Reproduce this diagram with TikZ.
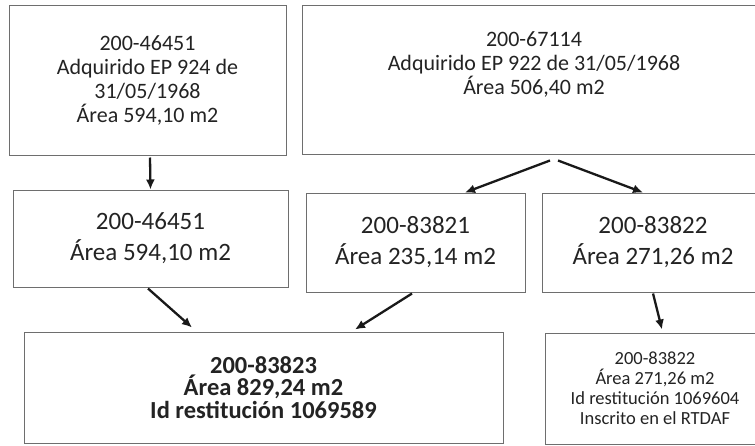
\documentclass[tikz,border=0pt]{standalone}
\usepackage{fontspec}
\setmainfont{Carlito}
\usetikzlibrary{arrows.meta}
\definecolor{boxline}{RGB}{110,110,110}
\definecolor{txtcol}{RGB}{35,35,35}
\definecolor{arrcol}{RGB}{25,25,25}
\tikzset{
  box/.style={draw=boxline, line width=1pt, rectangle, inner sep=0pt, align=center, text=txtcol},
  topfont/.style={font=\fontsize{22}{24}\selectfont},
  midfont/.style={font=\fontsize{25}{31}\selectfont},
  botfont/.style={font=\fontsize{24.5}{22.5}\selectfont\bfseries},
  smallfont/.style={font=\fontsize{18.5}{20}\selectfont},
  arr/.style={draw=arrcol, line width=2.3pt, -{Latex[length=10pt,width=9pt]}, shorten <=0pt}
}
\begin{document}
\begin{tikzpicture}[x=1pt,y=-1pt]
\useasboundingbox (0,0) rectangle (755,445);
\clip (0,0) rectangle (755,445);
% top row
\node[box, topfont, minimum width=277pt, minimum height=150pt] (A) at (147.5,80)
  {200-46451\\Adquirido EP 924 de\\31/05/1968\\Área 594,10 m2};
\node[box, minimum width=464pt, minimum height=149pt] (B) at (534,79.5) {};
\node[topfont, align=center, text=txtcol, inner sep=0pt] (Bt) at (534,64)
  {200-67114\\Adquirido EP 922 de 31/05/1968\\Área 506,40 m2};
% middle row
\node[box, midfont, minimum width=275pt, minimum height=97pt] (C) at (150.5,238.5)
  {200-46451\\Área 594,10 m2};
\node[box, midfont, minimum width=219pt, minimum height=99pt] (D) at (415.5,242.5)
  {200-83821\\Área 235,14 m2};
\node[box, midfont, minimum width=222pt, minimum height=99pt] (E) at (653,242.5)
  {200-83822\\Área 271,26 m2};
% bottom row
\node[box, botfont, minimum width=479pt, minimum height=111pt] (F) at (263.5,387.5)
  {200-83823\\Área 829,24 m2\\Id restitución 1069589};
\node[box, smallfont, minimum width=220pt, minimum height=111pt] (G) at (655,388.5)
  {200-83822\\Área 271,26 m2\\Id restitución 1069604\\Inscrito en el RTDAF};
% arrows
\draw[arr] ([xshift=2.5pt,yshift=-2pt]A.south) -- (C.north);
\draw[arr] ([xshift=16pt,yshift=-6pt]B.south) -- ([xshift=49.5pt]D.north);
\draw[arr] ([xshift=24pt,yshift=-6pt]B.south) -- ([xshift=-10pt]E.north);
\draw[arr] ([xshift=-2.5pt,yshift=-1pt]C.south) -- ([xshift=-71.5pt,yshift=4pt]F.north);
\draw[arr] ([xshift=-3.5pt,yshift=-1pt]D.south) -- ([xshift=91.5pt,yshift=2pt]F.north);
\draw[arr] ([xshift=0pt,yshift=-1pt]E.south) -- ([xshift=7pt,yshift=3pt]G.north);
\end{tikzpicture}
\end{document}
